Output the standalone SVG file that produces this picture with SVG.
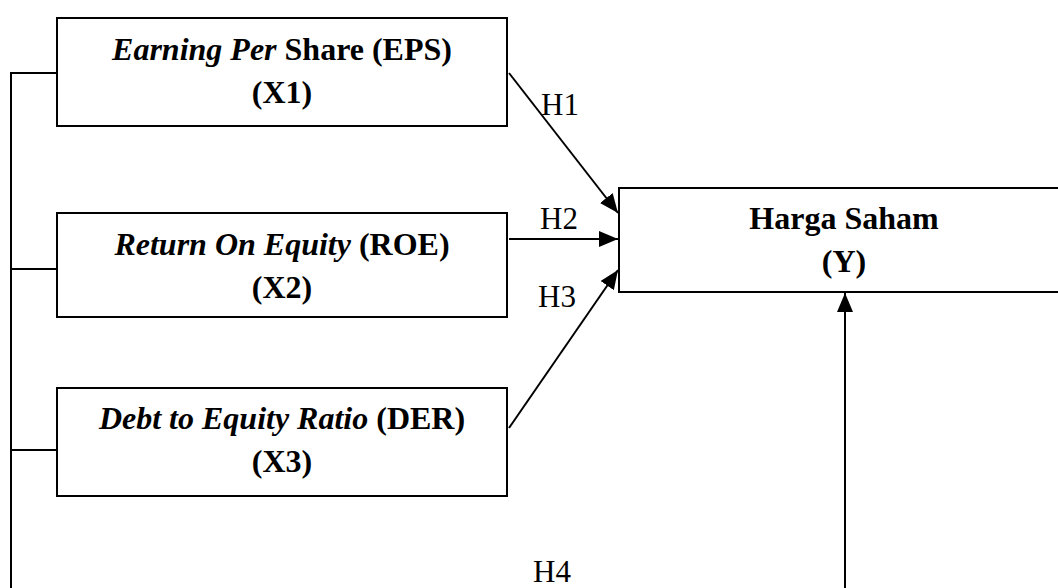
<svg xmlns="http://www.w3.org/2000/svg" width="1058" height="588" viewBox="0 0 1058 588">
<defs>
<style>
.box{fill:#fff;stroke:#000;stroke-width:2}
.t{font-family:"Liberation Serif","Times New Roman",serif;font-size:32px;fill:#000;text-anchor:middle}
.b{font-weight:bold}
.i{font-style:italic;font-weight:bold}
.lbl{font-family:"Liberation Serif","Times New Roman",serif;font-size:31px;fill:#000}
.c{stroke:#000;stroke-width:2;fill:none}
</style>
<marker id="ah" markerUnits="userSpaceOnUse" markerWidth="20" markerHeight="16" refX="19" refY="8" orient="auto">
<path d="M0,0 L19,8 L0,16 Z" fill="#000"/>
</marker>
</defs>
<rect width="1058" height="588" fill="#fff"/>
<g id="connectors">
<polyline class="c" points="57,73 11,73 11,588"/>
<line class="c" x1="11" y1="269" x2="57" y2="269"/>
<line class="c" x1="11" y1="450" x2="57" y2="450"/>
<line class="c" x1="509" y1="73" x2="618" y2="213" marker-end="url(#ah)"/>
<line class="c" x1="509" y1="239" x2="618" y2="239" marker-end="url(#ah)"/>
<line class="c" x1="509" y1="428" x2="618" y2="270" marker-end="url(#ah)"/>
<line class="c" x1="845" y1="588" x2="845" y2="293" marker-end="url(#ah)"/>
<text class="lbl" x="541" y="115">H1</text>
<text class="lbl" x="540" y="229">H2</text>
<text class="lbl" x="538" y="307">H3</text>
<text class="lbl" x="533" y="582">H4</text>
</g>
<g id="eps">
<rect class="box" x="57" y="18" width="450" height="108"/>
<text class="t" x="282" y="60"><tspan class="i">Earning Per</tspan><tspan class="b"> Share (EPS)</tspan></text>
<text class="t b" x="282" y="103">(X1)</text>
</g>
<g id="roe">
<rect class="box" x="57" y="213" width="450" height="104"/>
<text class="t" x="282" y="255"><tspan class="i">Return On Equity</tspan><tspan class="b"> (ROE)</tspan></text>
<text class="t b" x="282" y="298">(X2)</text>
</g>
<g id="der">
<rect class="box" x="57" y="388" width="450" height="108"/>
<text class="t" x="282" y="429"><tspan class="i">Debt to Equity Ratio</tspan><tspan class="b"> (DER)</tspan></text>
<text class="t b" x="282" y="472">(X3)</text>
</g>
<g id="harga">
<rect class="box" x="619" y="188" width="460" height="104"/>
<text class="t b" x="844" y="229">Harga Saham</text>
<text class="t b" x="844" y="272">(Y)</text>
</g>
</svg>
